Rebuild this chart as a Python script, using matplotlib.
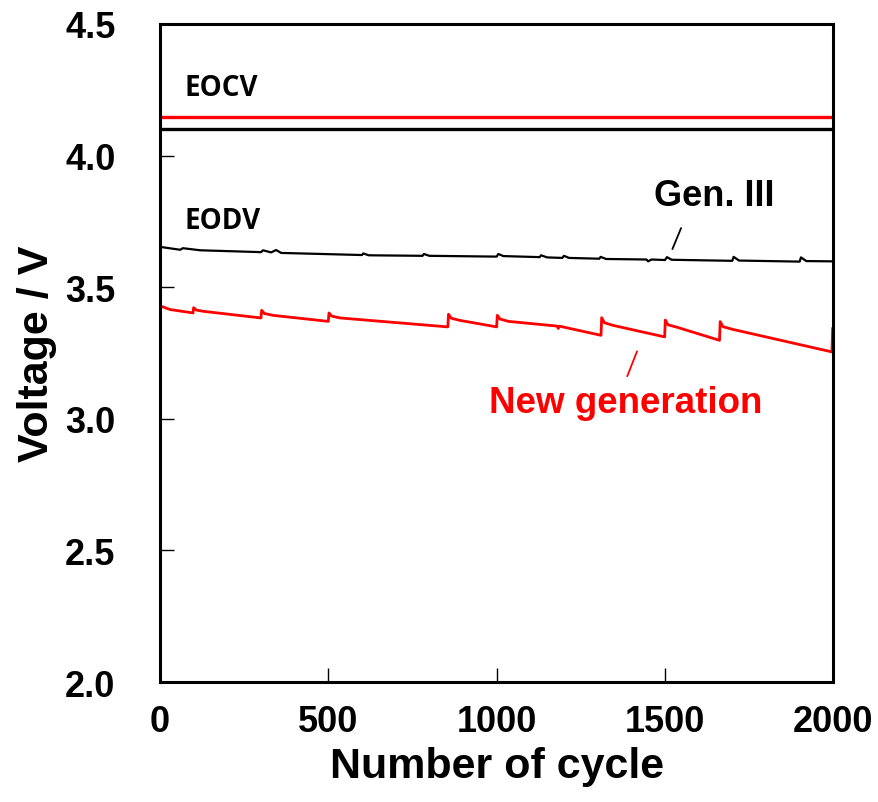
import matplotlib
matplotlib.use("Agg")
import matplotlib.pyplot as plt

# ---- data ----
eocv_cycle = [0, 2000]
eocv_new = [4.148, 4.148]
eocv_gen3 = [4.099, 4.099]

gen3_cycle = [0, 60, 68, 120, 300, 306, 330, 345, 360, 600, 604, 620,
              780, 784, 800, 1000, 1005, 1020, 1128, 1132, 1150, 1195,
              1200, 1215, 1305, 1309, 1325, 1445, 1450, 1460, 1500, 1506,
              1520, 1700, 1704, 1720, 1900, 1904, 1920, 2000]
gen3_v = [3.653, 3.642, 3.648, 3.640, 3.633, 3.640, 3.632, 3.641, 3.630,
          3.622, 3.628, 3.621, 3.619, 3.626, 3.619, 3.616, 3.626, 3.618,
          3.614, 3.621, 3.613, 3.611, 3.619, 3.611, 3.608, 3.615, 3.607,
          3.605, 3.598, 3.605, 3.603, 3.614, 3.604, 3.600, 3.615, 3.601,
          3.597, 3.613, 3.599, 3.598]

new_cycle = [0, 30, 98, 100, 108, 130, 300, 302, 310, 335, 500, 502, 510,
             535, 855, 857, 865, 890, 1000, 1002, 1010, 1035, 1180, 1183,
             1186, 1310, 1312, 1320, 1345, 1499, 1501, 1509, 1535, 1662,
             1664, 1672, 1700, 1996, 1998]
new_v = [3.429, 3.415, 3.402, 3.422, 3.413, 3.408, 3.383, 3.412, 3.400,
         3.393, 3.370, 3.402, 3.390, 3.383, 3.349, 3.397, 3.382, 3.374,
         3.349, 3.393, 3.379, 3.370, 3.352, 3.343, 3.352, 3.317, 3.384,
         3.365, 3.355, 3.311, 3.375, 3.357, 3.348, 3.298, 3.369, 3.350,
         3.340, 3.254, 3.342]

plt.rcParams["font.family"] = ["Liberation Sans", "DejaVu Sans"]

fig = plt.figure(figsize=(8.79, 8.03), dpi=100)
ax = fig.add_axes([0.182, 0.1494, 0.766, 0.8196])

ax.plot(eocv_cycle, eocv_gen3, color="black", lw=2.4)
ax.plot(eocv_cycle, eocv_new, color="red", lw=2.4)
ax.plot(gen3_cycle, gen3_v, color="black", lw=1.6)
ax.plot(new_cycle, new_v, color="red", lw=2.0)

ax.set_xlim(0, 2000)
ax.set_ylim(2.0, 4.5)
ax.set_xticks([0, 500, 1000, 1500, 2000])
ax.set_yticks([2.0, 2.5, 3.0, 3.5, 4.0, 4.5])
ax.set_yticklabels(["2.0", "2.5", "3.0", "3.5", "4.0", "4.5"])
ax.tick_params(direction="in", length=10, width=1, labelsize=26)
ax.tick_params(axis="y", pad=32)
ax.tick_params(axis="x", pad=16)
for lbl in ax.get_xticklabels() + ax.get_yticklabels():
    lbl.set_fontweight("bold")
for s in ax.spines.values():
    s.set_linewidth(2.2)

ax.set_xlabel("Number of cycle", fontsize=31, fontweight="bold", labelpad=5)
ax.set_ylabel("Voltage / V", fontsize=31, fontweight="bold", labelpad=6)

ax.text(74, 4.259, "EOCV", fontsize=20, fontweight="bold",
        family=["Open Sans", "DejaVu Sans"], va="center")
ax.text(74, 3.753, "EODV", fontsize=20, fontweight="bold",
        family=["Open Sans", "DejaVu Sans"], va="center")

ax.text(1646, 3.848, "Gen. III", fontsize=26, fontweight="bold",
        ha="center", va="center")
ax.annotate("", xy=(1519, 3.635), xytext=(1551, 3.734),
            arrowprops=dict(arrowstyle="-", color="black", lw=1.3))
ax.text(1382, 3.061, "New generation", fontsize=26.5, fontweight="bold",
        color="red", ha="center", va="center")
ax.annotate("", xy=(1420, 3.266), xytext=(1385, 3.152),
            arrowprops=dict(arrowstyle="-", color="red", lw=1.3))

fig.savefig("out.png", dpi=100)
